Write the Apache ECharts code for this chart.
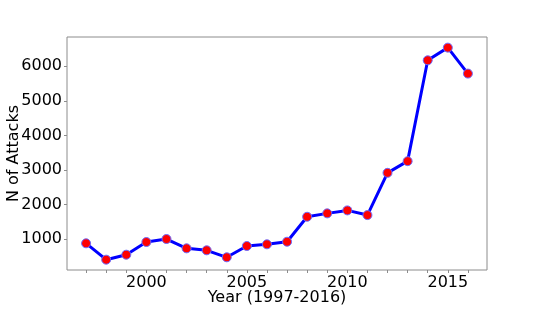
<!DOCTYPE html>
<html>
<head>
<meta charset="utf-8">
<script src="https://cdn.jsdelivr.net/npm/echarts@6/dist/echarts.min.js"></script>
<style>
html, body { margin: 0; padding: 0; background: #fff; }
#main { width: 540px; height: 309px; }
</style>
</head>
<body>
<div id="main"></div>
<script>
// data
var years = [1997, 1998, 1999, 2000, 2001, 2002, 2003, 2004, 2005, 2006,
             2007, 2008, 2009, 2010, 2011, 2012, 2013, 2014, 2015, 2016];
var attacks = [885, 412, 556, 922, 1009, 740, 683, 481, 807, 856,
               931, 1652, 1750, 1836, 1701, 2921, 3258, 6172, 6538, 5788];
var xLabels = [2000, 2005, 2010, 2015];
var yTicks = [1000, 2000, 3000, 4000, 5000, 6000];

var points = years.map(function (y, i) { return [y, attacks[i]]; });
var font = '"DejaVu Sans", sans-serif';
var plain = function (v) { return String(v); };

var chart = echarts.init(document.getElementById('main'));
chart.setOption({
    animation: false,
    grid: {
        left: 67, top: 37, right: 53, bottom: 39,
        outerBoundsMode: 'none', containLabel: false,
        show: true, borderColor: '#8c8c8c', borderWidth: 1
    },
    xAxis: {
        type: 'value',
        min: 1996.05, max: 2016.95,
        name: 'Year (1997-2016)',
        nameLocation: 'middle',
        nameGap: 20,
        nameMoveOverlap: false,
        nameTextStyle: { fontFamily: font, fontSize: 16, color: '#000' },
        axisLine: { show: false },
        splitLine: { show: false },
        axisTick: { show: true, length: 3, inside: false, customValues: years,
                    lineStyle: { color: '#8c8c8c' } },
        axisLabel: { customValues: xLabels, margin: 5, formatter: plain,
                     fontFamily: font, fontSize: 16, color: '#000' }
    },
    yAxis: {
        type: 'value',
        min: 114, max: 6845,
        name: 'N of Attacks',
        nameLocation: 'middle',
        nameRotate: 90,
        nameGap: 45,
        nameMoveOverlap: false,
        nameTextStyle: { fontFamily: font, fontSize: 16, color: '#000' },
        axisLine: { show: false },
        splitLine: { show: false },
        axisTick: { show: true, length: 3, customValues: yTicks,
                    lineStyle: { color: '#8c8c8c' } },
        axisLabel: { customValues: yTicks, margin: 5, formatter: plain,
                     fontFamily: font, fontSize: 16, color: '#000' }
    },
    series: [{
        type: 'line',
        data: points,
        symbol: 'circle',
        symbolSize: 9,
        lineStyle: { color: '#0000ff', width: 3 },
        itemStyle: { color: '#ff0000', borderColor: '#6a6aff', borderWidth: 1 }
    }]
});
</script>
</body>
</html>
